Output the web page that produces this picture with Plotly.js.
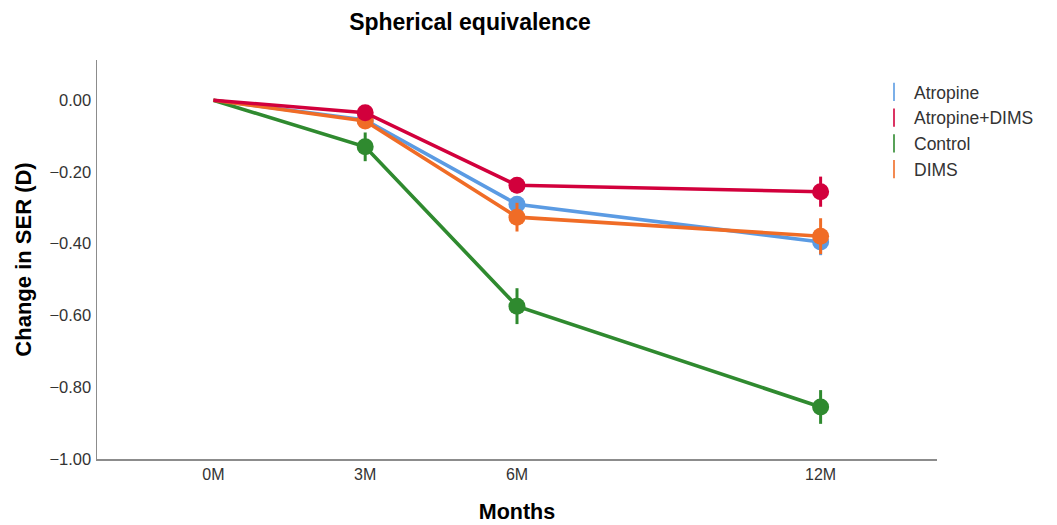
<!DOCTYPE html>
<html>
<head>
<meta charset="utf-8">
<script src="https://cdn.plot.ly/plotly-3.0.1.min.js"></script>
<style>html,body{margin:0;padding:0;background:#fff;}#chart{width:1057px;height:525px;}</style>
</head>
<body>
<div id="chart"></div>
<script>
// Data (months since baseline)
const months = [0, 3, 6, 12];
const tickLabels = ["0M", "3M", "6M", "12M"];
const groups = ["Atropine", "Atropine+DIMS", "Control", "DIMS"];
const atropine = [0, -0.055, -0.290, -0.395];
const atropineErr = [0, 0.02, 0.022, 0.037];
const atropineDims = [0, -0.035, -0.237, -0.255];
const atropineDimsErr = [0, 0.02, 0.022, 0.042];
const control = [0, -0.130, -0.574, -0.855];
const controlErr = [0, 0.04, 0.05, 0.047];
const dims = [0, -0.058, -0.326, -0.379];
const dimsErr = [0, 0.02, 0.04, 0.05];

const colors = {
  "Atropine": "#5B9BE3",
  "Atropine+DIMS": "#D2003C",
  "Control": "#2F8A2F",
  "DIMS": "#F06C26"
};
const series = {
  "Atropine": [atropine, atropineErr],
  "Atropine+DIMS": [atropineDims, atropineDimsErr],
  "Control": [control, controlErr],
  "DIMS": [dims, dimsErr]
};
const drawOrder = ["Atropine", "Control", "DIMS", "Atropine+DIMS"];

const traces = [];
drawOrder.forEach(g => {
  const [y, e] = series[g];
  traces.push({
    x: months, y: y, type: "scatter", mode: "lines+markers",
    name: g, showlegend: false, hoverinfo: "x+y+name",
    line: {color: colors[g], width: 3.6},
    marker: {color: colors[g], opacity: 1, line: {width: 0},
             size: months.map((m, i) => i === 0 ? 0 : 17)},
    error_y: {type: "data", array: e, visible: true, color: colors[g], thickness: 3, width: 0}
  });
});
// Legend entries (error-bar icon)
groups.forEach(g => {
  traces.push({
    x: [null], y: [null], type: "scatter", mode: "markers", name: g, showlegend: true,
    marker: {symbol: "line-ns-open", size: 13, color: colors[g], line: {color: colors[g], width: 1.6}}
  });
});

const layout = {
  width: 1057, height: 525,
  margin: {l: 97, r: 120, t: 60, b: 66},
  paper_bgcolor: "#fff", plot_bgcolor: "#fff",
  font: {family: "Liberation Sans, Arial, sans-serif", color: "#333", size: 16},
  title: {text: "<b>Spherical equivalence</b>", x: 0.444, xref: "paper", xanchor: "center",
          y: 0.958, yanchor: "middle", font: {size: 23, color: "#000"}},
  xaxis: {
    range: [-2.3, 14.3], tickvals: months, ticktext: tickLabels,
    showgrid: false, zeroline: false, showline: true, linecolor: "#8c8c8c", linewidth: 1.5,
    ticks: "",
    tickfont: {size: 16, color: "#333"},
    title: {text: "<b>Months</b>", font: {size: 21.5, color: "#000"}, standoff: 22}
  },
  yaxis: {
    range: [-1.0, 0.112], tickvals: [0, -0.2, -0.4, -0.6, -0.8, -1.0], tickformat: ".2f",
    showgrid: false, zeroline: false, showline: true, linecolor: "#8c8c8c", linewidth: 1.5,
    ticks: "outside", ticklen: 1, tickcolor: "rgba(0,0,0,0)",
    tickfont: {size: 16.5, color: "#333"},
    title: {text: "<b>Change in SER (D)</b>", font: {size: 22, color: "#000"}, standoff: 12}
  },
  legend: {x: 0.925, xanchor: "left", y: 0.965, yanchor: "top",
           font: {size: 17.5, color: "#333"}, bgcolor: "rgba(0,0,0,0)",
           itemwidth: 30, tracegroupgap: 0}
};

Plotly.newPlot("chart", traces, layout, {displayModeBar: false, staticPlot: true});
</script>
</body>
</html>
